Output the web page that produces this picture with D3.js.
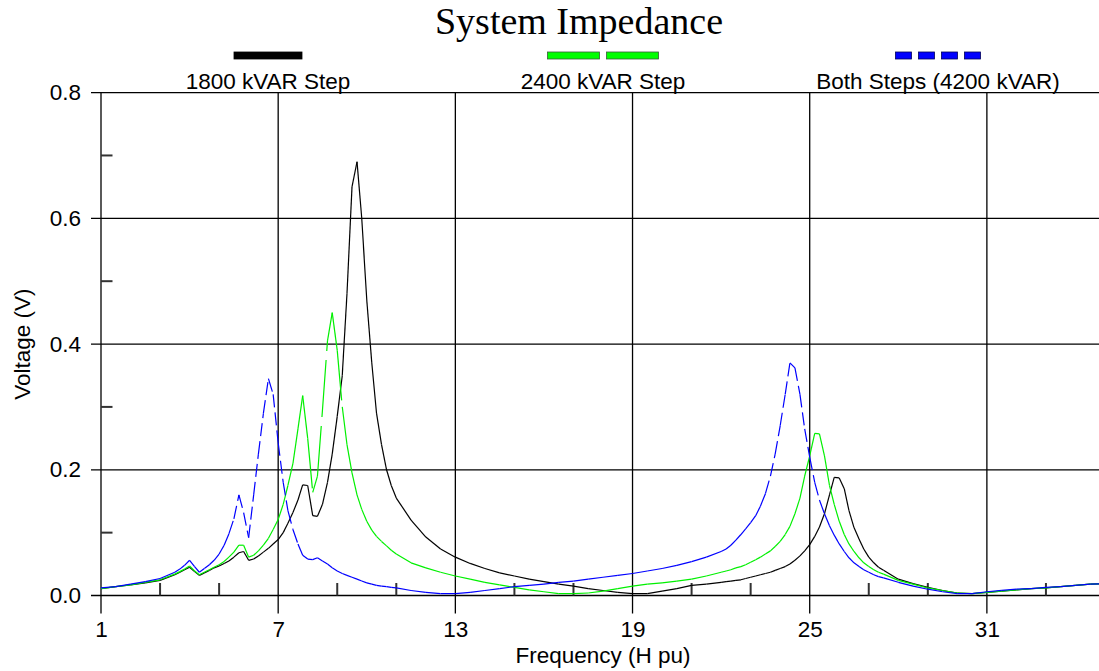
<!DOCTYPE html>
<html>
<head>
<meta charset="utf-8">
<script src="https://cdn.jsdelivr.net/npm/d3@7"></script>
<style>
  body { margin: 0; background: #fff; }
  text { font-family: "Liberation Sans", Arial, sans-serif; }
  text.serif { font-family: "Liberation Serif", "Times New Roman", serif; }
</style>
</head>
<body>
<div id="chart"></div>
<script>
// harmonic frequency (H pu)
const freq = [
  1, 1.5, 2, 2.5, 3,
  3.5, 3.67, 3.83, 4, 4.17, 4.33, 4.5, 4.67, 4.83, 5, 5.17, 5.33, 5.5, 5.67, 5.83, 6,
  6.17, 6.33, 6.5, 6.67, 6.83, 7, 7.17, 7.33, 7.5, 7.67, 7.83, 8, 8.17, 8.33, 8.5, 8.67,
  8.83, 9, 9.17, 9.33, 9.5, 9.67, 9.83, 10, 10.17, 10.33, 10.5, 10.67, 10.83, 11,
  11.5, 12, 12.5, 13, 13.5, 14, 14.5, 15, 15.5, 16, 16.5, 17, 17.5, 18, 18.5, 19, 19.5,
  20, 20.5, 21, 21.5, 22,
  22.17, 22.33, 22.5, 22.67, 22.83, 23, 23.17, 23.33, 23.5, 23.67, 23.83, 24, 24.17, 24.33,
  24.5, 24.67, 24.83, 25, 25.17, 25.33, 25.5, 25.67, 25.83, 26, 26.17, 26.33, 26.5, 26.67,
  26.83, 27, 27.17, 27.33, 27.5,
  28, 28.5, 29, 29.5, 30, 30.5, 31, 31.5, 32, 32.5, 33, 33.5, 34, 34.5, 35
];

const step1800 = [
  0.011, 0.014, 0.017, 0.020, 0.024,
  0.033, 0.037, 0.041, 0.045, 0.038, 0.032, 0.036, 0.040, 0.044, 0.047, 0.051, 0.055, 0.061, 0.068, 0.070, 0.056,
  0.058, 0.063, 0.069, 0.075, 0.082, 0.089, 0.100, 0.115, 0.132, 0.152, 0.176, 0.175, 0.127, 0.126, 0.145, 0.180,
  0.225, 0.285, 0.350, 0.480, 0.650, 0.690, 0.600, 0.470, 0.370, 0.290, 0.240, 0.200, 0.175, 0.155,
  0.120, 0.093, 0.074, 0.061, 0.051, 0.043, 0.036, 0.031, 0.026, 0.022, 0.018, 0.015, 0.011, 0.008, 0.005, 0.003, 0.003,
  0.007, 0.011, 0.016, 0.018, 0.021,
  0.022, 0.023, 0.024, 0.025, 0.027, 0.029, 0.031, 0.033, 0.035, 0.037, 0.040, 0.043, 0.046, 0.050,
  0.056, 0.063, 0.071, 0.081, 0.094, 0.109, 0.130, 0.160, 0.188, 0.187, 0.170, 0.135, 0.108, 0.090,
  0.074, 0.061, 0.052, 0.045, 0.040,
  0.026, 0.019, 0.013, 0.008, 0.004, 0.003, 0.005, 0.007, 0.009, 0.011, 0.012, 0.014, 0.016, 0.018, 0.019
];

const step2400 = [
  0.011, 0.014, 0.017, 0.021, 0.025,
  0.034, 0.038, 0.042, 0.047, 0.039, 0.033, 0.037, 0.041, 0.045, 0.049, 0.054, 0.061, 0.069, 0.080, 0.080, 0.061,
  0.064, 0.071, 0.080, 0.091, 0.105, 0.121, 0.145, 0.175, 0.210, 0.265, 0.318, 0.250, 0.164, 0.190, 0.295, 0.405,
  0.450, 0.390, 0.300, 0.240, 0.195, 0.160, 0.137, 0.118, 0.104, 0.094, 0.086, 0.079, 0.072, 0.066,
  0.052, 0.044, 0.037, 0.031, 0.026, 0.021, 0.017, 0.013, 0.009, 0.006, 0.003, 0.003, 0.004, 0.007, 0.011, 0.015, 0.018,
  0.020, 0.023, 0.026, 0.031, 0.037,
  0.039, 0.041, 0.044, 0.046, 0.049, 0.053, 0.057, 0.061, 0.066, 0.071, 0.078, 0.086, 0.097, 0.110,
  0.130, 0.155, 0.190, 0.222, 0.258, 0.257, 0.222, 0.175, 0.145, 0.118, 0.097, 0.082, 0.070, 0.060,
  0.052, 0.046, 0.041, 0.037, 0.034,
  0.024, 0.018, 0.012, 0.008, 0.004, 0.003, 0.005, 0.007, 0.009, 0.011, 0.012, 0.014, 0.016, 0.018, 0.019
];

const bothSteps = [
  0.012, 0.014, 0.018, 0.022, 0.027,
  0.037, 0.042, 0.048, 0.056, 0.046, 0.037, 0.043, 0.049, 0.056, 0.066, 0.080, 0.098, 0.122, 0.160, 0.132, 0.092,
  0.160, 0.225, 0.290, 0.345, 0.320, 0.243, 0.180, 0.135, 0.105, 0.082, 0.064, 0.058, 0.057, 0.060, 0.055, 0.050,
  0.044, 0.039, 0.035, 0.032, 0.029, 0.026, 0.023, 0.020, 0.018, 0.016, 0.015, 0.014, 0.013, 0.012,
  0.008, 0.005, 0.003, 0.003, 0.005, 0.008, 0.011, 0.014, 0.016, 0.018, 0.021, 0.023, 0.026, 0.029, 0.032, 0.035, 0.039,
  0.043, 0.048, 0.054, 0.061, 0.070,
  0.074, 0.080, 0.088, 0.097, 0.106, 0.116, 0.127, 0.142, 0.162, 0.190, 0.225, 0.270, 0.320, 0.370,
  0.362, 0.320, 0.265, 0.220, 0.180, 0.152, 0.130, 0.111, 0.096, 0.082, 0.070, 0.060, 0.052, 0.046,
  0.041, 0.037, 0.033, 0.030, 0.028,
  0.021, 0.015, 0.010, 0.006, 0.003, 0.003, 0.006, 0.008, 0.010, 0.011, 0.013, 0.014, 0.016, 0.018, 0.019
];

const xMajorTicks = [1, 7, 13, 19, 25, 31];
const xMinorTicks = [3, 5, 9, 11, 15, 17, 21, 23, 27, 29, 33];
const yMajorTicks = [0, 0.2, 0.4, 0.6, 0.8];
const yMinorTicks = [0.1, 0.3, 0.5, 0.7];

const seriesNames = ["1800 kVAR Step", "2400 kVAR Step", "Both Steps (4200 kVAR)"];

const W = 1099, H = 671;
const plotLeft = 101, plotRight = 1105, plotTop = 92.6, plotBottom = 595.5;
const fs = 22.5;

const svg = d3.select("#chart").append("svg")
  .attr("width", W).attr("height", H)
  .style("display", "block");

svg.append("rect").attr("width", W).attr("height", H).attr("fill", "#fff");

const x = d3.scaleLinear().domain([1, 35]).range([plotLeft, plotRight]);
const y = d3.scaleLinear().domain([0, 0.8]).range([plotBottom, plotTop]);

// grid lines
svg.append("g").selectAll("line")
  .data(xMajorTicks)
  .join("line")
  .attr("x1", d => x(d)).attr("x2", d => x(d))
  .attr("y1", plotTop).attr("y2", plotBottom + 18)
  .attr("stroke", "#000").attr("stroke-width", 1.3);

svg.append("g").selectAll("line")
  .data(yMajorTicks)
  .join("line")
  .attr("x1", plotLeft - 10).attr("x2", W)
  .attr("y1", d => y(d)).attr("y2", d => y(d))
  .attr("stroke", "#000").attr("stroke-width", 1.3);

// minor ticks
svg.append("g").selectAll("line")
  .data(xMinorTicks)
  .join("line")
  .attr("x1", d => x(d)).attr("x2", d => x(d))
  .attr("y1", plotBottom).attr("y2", plotBottom - 12.5)
  .attr("stroke", "#333").attr("stroke-width", 2);

svg.append("g").selectAll("line")
  .data(yMinorTicks)
  .join("line")
  .attr("x1", plotLeft).attr("x2", plotLeft + 11.5)
  .attr("y1", d => y(d)).attr("y2", d => y(d))
  .attr("stroke", "#333").attr("stroke-width", 2);

// axis labels via d3 axes
const xAxis = svg.append("g")
  .attr("transform", `translate(0,${plotBottom})`)
  .call(d3.axisBottom(x).tickValues(xMajorTicks).tickSize(0).tickPadding(25.5).tickFormat(d3.format("d")));
xAxis.select(".domain").remove();
xAxis.selectAll("text").attr("font-size", fs).attr("fill", "#000");

const yAxis = svg.append("g")
  .attr("transform", `translate(${plotLeft},0)`)
  .call(d3.axisLeft(y).tickValues(yMajorTicks).tickSize(0).tickPadding(20).tickFormat(d3.format(".1f")));
yAxis.select(".domain").remove();
yAxis.selectAll("text").attr("font-size", fs).attr("fill", "#000");

// data lines: each sample-to-sample segment gets its own dash pattern,
// measured along the vertical travel, so flat stretches stay solid
const line = d3.line().x(d => x(d[0])).y(d => y(d[1]));
const series = [
  {values: step1800, color: "#000000", dash: null},
  {values: step2400, color: "#00f000", dash: [50, 9]},
  {values: bothSteps, color: "#0000ff", dash: [13, 5]}
];

function segDash(seg, dash) {
  if (!dash) return null;
  const dx = x(seg[1][0]) - x(seg[0][0]);
  const dy = Math.abs(y(seg[1][1]) - y(seg[0][1]));
  if (dy < 1) return null;
  const k = Math.hypot(dx, dy) / dy;
  return `${dash[0] * k},${dash[1] * k}`;
}

series.forEach(s => {
  const pts = freq.map((f, i) => [f, s.values[i]]);
  svg.append("g").selectAll("path")
    .data(d3.pairs(pts))
    .join("path")
    .attr("d", d => line(d))
    .attr("fill", "none")
    .attr("stroke", s.color)
    .attr("stroke-width", 1.2)
    .attr("stroke-dasharray", d => segDash(d, s.dash));
});

// title
svg.append("text")
  .attr("class", "serif")
  .attr("x", 579).attr("y", 34)
  .attr("text-anchor", "middle")
  .attr("font-size", 38)
  .text("System Impedance");

// legend
const legendX = [268, 603, 938];
const legendStyle = [
  {n: 1, w: 68, gap: 0, fill: "#000", stroke: "#000"},
  {n: 2, w: 52, gap: 7, fill: "#00ff00", stroke: "#3a5a3a"},
  {n: 4, w: 16, gap: 7, fill: "#0000ff", stroke: "#00005a"}
];

legendStyle.forEach((st, i) => {
  const total = st.n * st.w + (st.n - 1) * st.gap;
  const x0 = legendX[i] - total / 2;
  svg.append("g").selectAll("rect")
    .data(d3.range(st.n))
    .join("rect")
    .attr("x", k => x0 + k * (st.w + st.gap))
    .attr("y", 52).attr("width", st.w).attr("height", 7)
    .attr("fill", st.fill).attr("stroke", st.stroke).attr("stroke-width", 0.8);
  svg.append("text")
    .attr("x", legendX[i]).attr("y", 89)
    .attr("text-anchor", "middle")
    .attr("font-size", fs)
    .text(seriesNames[i]);
});

// axis titles
svg.append("text")
  .attr("x", 603).attr("y", 663)
  .attr("text-anchor", "middle")
  .attr("font-size", fs)
  .text("Frequency (H pu)");

svg.append("text")
  .attr("transform", `translate(30,${(plotTop + plotBottom) / 2}) rotate(-90)`)
  .attr("text-anchor", "middle")
  .attr("font-size", fs)
  .text("Voltage (V)");
</script>
</body>
</html>
